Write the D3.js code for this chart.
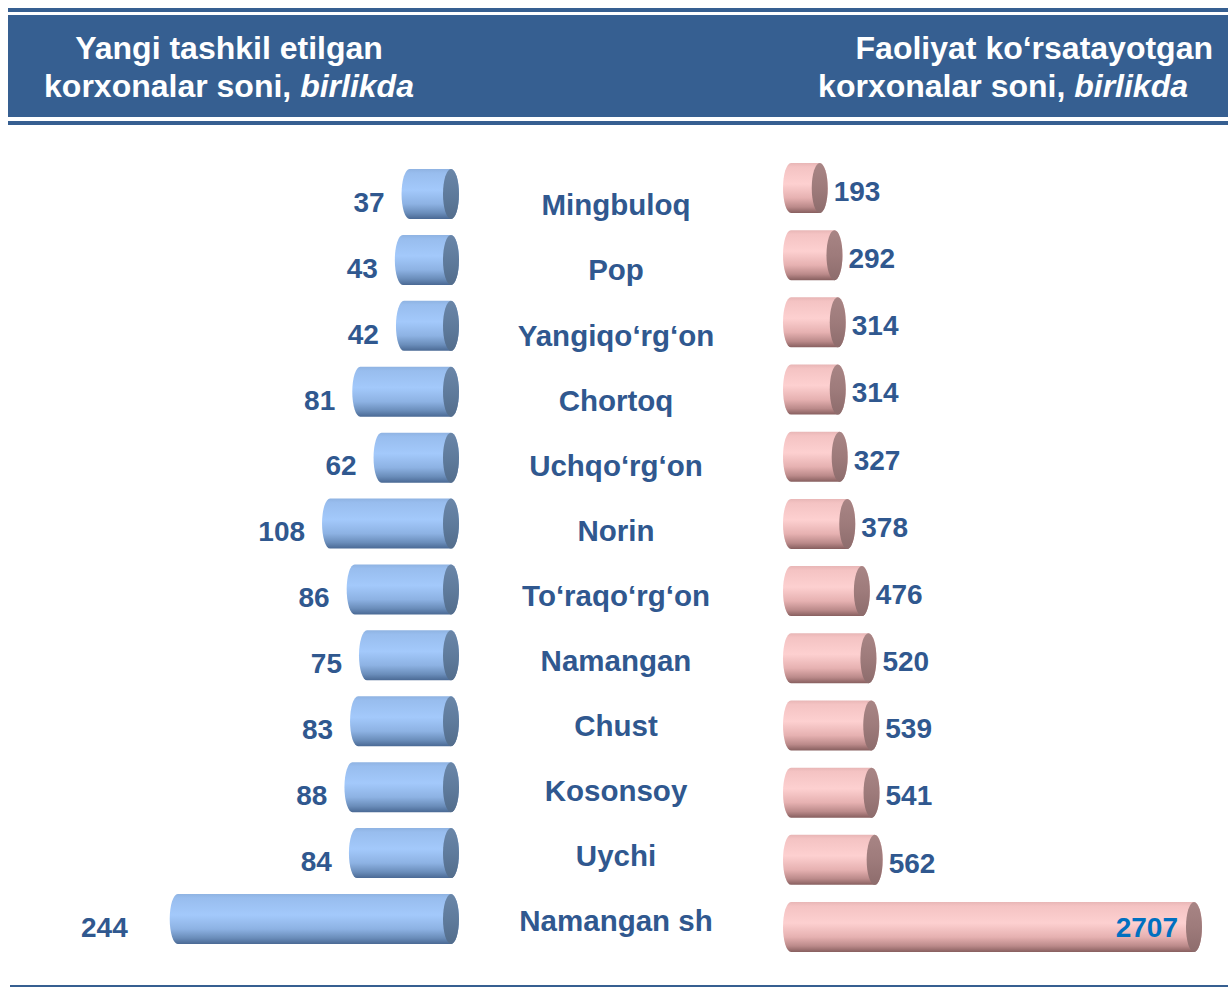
<!DOCTYPE html>
<html>
<head>
<meta charset="utf-8">
<script src="https://cdn.jsdelivr.net/npm/d3@7"></script>
<style>
  html, body { margin: 0; padding: 0; background: #ffffff; }
  svg { display: block; font-family: "Liberation Sans", Arial, sans-serif; }
</style>
</head>
<body>
<svg id="chart" width="1228" height="988"></svg>
<script>
// Districts of Namangan region, top to bottom
const districts = [
  "Mingbuloq", "Pop", "Yangiqo‘rg‘on", "Chortoq", "Uchqo‘rg‘on", "Norin",
  "To‘raqo‘rg‘on", "Namangan", "Chust", "Kosonsoy", "Uychi", "Namangan sh"
];
// Newly established enterprises, units
const newEnterprises = [37, 43, 42, 81, 62, 108, 86, 75, 83, 88, 84, 244];
// Operating enterprises, units
const activeEnterprises = [193, 292, 314, 314, 327, 378, 476, 520, 539, 541, 562, 2707];

const leftTitle = ["Yangi tashkil etilgan", "korxonalar soni, ", "birlikda"];
const rightTitle = ["Faoliyat ko‘rsatayotgan", "korxonalar soni, ", "birlikda"];

const W = 1228, H = 988;
const BLUE_DARK = "#365F91";
const LABEL = "#30588f";

const svg = d3.select("#chart");
const defs = svg.append("defs");

function cylGradient(id, stops) {
  const g = defs.append("linearGradient").attr("id", id)
    .attr("x1", 0).attr("y1", 0).attr("x2", 0).attr("y2", 1);
  stops.forEach(([o, c]) => g.append("stop").attr("offset", o).attr("stop-color", c));
}
cylGradient("gBlue", [[0, "#8fb3e2"], [0.08, "#98bdee"], [0.42, "#a3c9fb"], [0.7, "#8db2e3"], [0.88, "#6a8dba"], [1, "#4a6994"]]);
cylGradient("gPink", [[0, "#e8b6b6"], [0.08, "#f4c3c3"], [0.42, "#fdd0d0"], [0.7, "#e6b1b1"], [0.88, "#bb8a8a"], [1, "#875f5f"]]);
cylGradient("gBlueCap", [[0, "#6a86a8"], [0.5, "#5f7b9c"], [1, "#536d8c"]]);
cylGradient("gPinkCap", [[0, "#a88585"], [0.5, "#9e7b7b"], [1, "#8d6c6c"]]);

// ---- header band ----
const hdr = svg.append("g");
hdr.append("rect").attr("x", 8).attr("y", 8).attr("width", W - 8).attr("height", 4).attr("fill", BLUE_DARK);
hdr.append("rect").attr("x", 8).attr("y", 15).attr("width", W - 8).attr("height", 102).attr("fill", BLUE_DARK);
hdr.append("rect").attr("x", 8).attr("y", 121).attr("width", W - 8).attr("height", 4).attr("fill", BLUE_DARK);

function title(lines, x, anchor) {
  const t1 = hdr.append("text").attr("x", x[0]).attr("y", 59)
    .attr("text-anchor", anchor).attr("fill", "#fff")
    .attr("font-size", 32).attr("font-weight", "bold").text(lines[0]);
  const t2 = hdr.append("text").attr("x", x[1]).attr("y", 97)
    .attr("text-anchor", anchor).attr("fill", "#fff")
    .attr("font-size", 32).attr("font-weight", "bold");
  t2.append("tspan").text(lines[1]);
  t2.append("tspan").attr("font-style", "italic").text(lines[2]);
}
title(leftTitle, [229, 229], "middle");
title(rightTitle, [1213, 1188], "end");

// bottom rule
svg.append("rect").attr("x", 10).attr("y", 985).attr("width", W - 10).attr("height", 2).attr("fill", BLUE_DARK);

// ---- scales ----
const yLeft = d3.scalePoint().domain(districts).range([194, 919]);
const yRight = d3.scalePoint().domain(districts).range([188, 927]);
const yCat = d3.scalePoint().domain(districts).range([205, 921]);

const xLeft = d3.scaleLinear().domain([0, 100]).range([451, 339]);
const xRight = d3.scaleLinear().domain([0, 2707]).range([791, 1194]);

const RX = 8, RY = 25;

// horizontal cylinder: rounded left end, visible elliptical cap on the right
function cylinder(g, xa, xb, cy, fill, capFill) {
  const top = cy - RY, bot = cy + RY;
  g.append("path")
    .attr("d", `M${xb},${top} L${xa},${top} A${RX},${RY} 0 0 0 ${xa},${bot} L${xb},${bot} A${RX},${RY} 0 0 0 ${xb},${top} Z`)
    .attr("fill", fill);
  g.append("ellipse").attr("cx", xb).attr("cy", cy).attr("rx", RX).attr("ry", RY)
    .attr("fill", capFill);
}

// ---- left chart: new enterprises (grow leftwards from zero) ----
const gl = svg.append("g");
const maxNew = d3.max(newEnterprises);
districts.forEach((d, i) => {
  const v = newEnterprises[i];
  const cy = yLeft(d);
  cylinder(gl, xLeft(v), xLeft(0), cy, "url(#gBlue)", "url(#gBlueCap)");
  const gap = v === maxNew ? 42 : 17;
  gl.append("text")
    .attr("x", xLeft(v) - RX - gap).attr("y", cy + 8)
    .attr("dy", "0.35em").attr("text-anchor", "end")
    .attr("fill", LABEL).attr("font-size", 28).attr("font-weight", "bold")
    .text(v);
});

// ---- category names ----
svg.append("g").selectAll("text").data(districts).join("text")
  .attr("x", 616).attr("y", d => yCat(d)).attr("dy", "0.35em")
  .attr("text-anchor", "middle").attr("fill", LABEL)
  .attr("font-size", 29.5).attr("font-weight", "bold")
  .text(d => d);

// ---- right chart: operating enterprises ----
const gr = svg.append("g");
const maxActive = d3.max(activeEnterprises);
districts.forEach((d, i) => {
  const v = activeEnterprises[i];
  const cy = yRight(d);
  cylinder(gr, xRight(0), xRight(v), cy, "url(#gPink)", "url(#gPinkCap)");
  const inside = v === maxActive;
  gr.append("text")
    .attr("x", inside ? xRight(v) - RX - 8 : xRight(v) + RX + 6)
    .attr("y", cy + (inside ? 0 : 3)).attr("dy", "0.35em")
    .attr("text-anchor", inside ? "end" : "start")
    .attr("fill", inside ? "#0070C0" : LABEL)
    .attr("font-size", 28).attr("font-weight", "bold")
    .text(v);
});
</script>
</body>
</html>
